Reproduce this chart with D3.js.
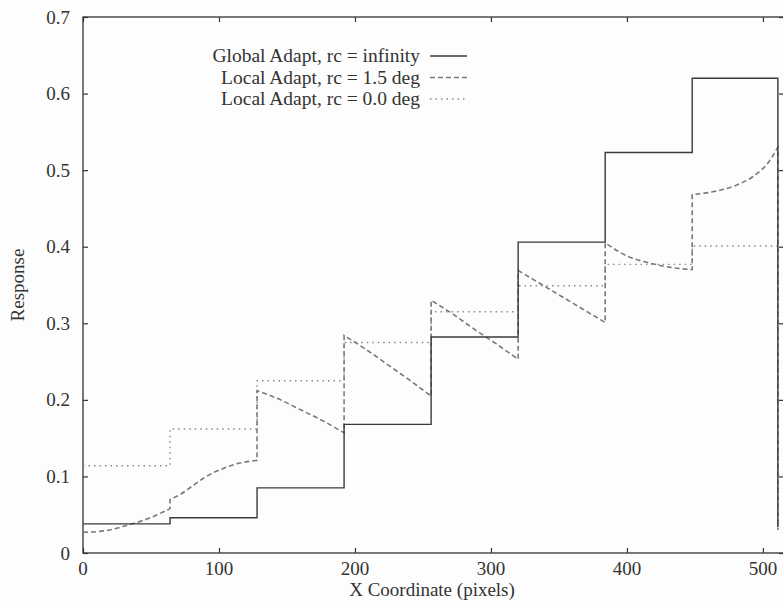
<!DOCTYPE html>
<html><head><meta charset="utf-8">
<script src="https://cdn.jsdelivr.net/npm/d3@7"></script>
<style>
body{margin:0;background:#fdfdfd;}
svg{display:block;}
.lbl{font-family:"Liberation Serif","DejaVu Serif",serif;fill:#333;}
</style></head><body>
<svg id="c" width="783" height="606"></svg>
<script>
// ---- data ----
const stepEdges = [0, 64, 128, 192, 256, 320, 384, 448, 511];
const globalValues = [0.038, 0.046, 0.085, 0.168, 0.282, 0.406, 0.523, 0.620];
const localZeroValues = [0.114, 0.162, 0.225, 0.275, 0.315, 0.349, 0.377, 0.401];
const endDrop = [0.034, 0.030, 0.030]; // values after final edge: global, 1.5deg, 0.0deg
// Local Adapt rc = 1.5 deg: one curve per step
const localCurveX = [
  [0, 16, 32, 48, 64],
  [64, 72, 80, 88, 96, 104, 112, 120, 128],
  [128, 144, 160, 176, 192],
  [192, 208, 224, 240, 256],
  [256, 272, 288, 304, 320],
  [320, 336, 352, 368, 384],
  [384, 400, 416, 432, 448],
  [448, 464, 480, 496, 504, 511]
];
const localCurveY = [
  [0.027, 0.029, 0.036, 0.045, 0.058],
  [0.070, 0.077, 0.087, 0.097, 0.105, 0.111, 0.116, 0.119, 0.121],
  [0.212, 0.201, 0.187, 0.173, 0.157],
  [0.284, 0.266, 0.246, 0.226, 0.205],
  [0.330, 0.312, 0.292, 0.273, 0.253],
  [0.369, 0.352, 0.335, 0.318, 0.301],
  [0.405, 0.388, 0.379, 0.373, 0.370],
  [0.468, 0.472, 0.480, 0.496, 0.510, 0.530]
];
const xTicks = [0, 100, 200, 300, 400, 500];
const yTicks = [0, 0.1, 0.2, 0.3, 0.4, 0.5, 0.6, 0.7];
const xTickLabels = ["0", "100", "200", "300", "400", "500"];
const yTickLabels = ["0", "0.1", "0.2", "0.3", "0.4", "0.5", "0.6", "0.7"];
const legendLabels = ["Global Adapt, rc = infinity", "Local Adapt, rc = 1.5 deg", "Local Adapt, rc = 0.0 deg"];

// ---- layout ----
const svg = d3.select("#c");
const L = 83, R = 784, T = 17, B = 553;
const x = d3.scaleLinear().domain([0, 515.5]).range([L, R]);
const y = d3.scaleLinear().domain([0, 0.7]).range([B, T]);
const axisColor = "#333";

// frame
svg.append("rect").attr("x", L).attr("y", T).attr("width", R - L).attr("height", B - T)
  .attr("fill", "none").attr("stroke", axisColor).attr("stroke-width", 1.3);

// tick marks (inward, all four sides)
const tl = 5;
const g = svg.append("g");
g.append("g").attr("transform", `translate(0,${B})`)
  .call(d3.axisBottom(x).tickValues(xTicks).tickSize(-tl).tickFormat(""));
g.append("g").attr("transform", `translate(0,${T})`)
  .call(d3.axisTop(x).tickValues(xTicks).tickSize(-tl).tickFormat(""));
g.append("g").attr("transform", `translate(${L},0)`)
  .call(d3.axisLeft(y).tickValues(yTicks).tickSize(-tl).tickFormat(""));
g.append("g").attr("transform", `translate(${R},0)`)
  .call(d3.axisRight(y).tickValues(yTicks).tickSize(-tl).tickFormat(""));
g.selectAll(".domain").remove();
g.selectAll(".tick text").remove();
g.selectAll(".tick line").attr("stroke", axisColor).attr("stroke-width", 1.2);

// tick labels
svg.append("g").selectAll("text").data(xTicks).join("text")
  .attr("class", "lbl").attr("font-size", 19).attr("text-anchor", "middle")
  .attr("x", d => x(d)).attr("y", B + 22)
  .text((d, i) => xTickLabels[i]);
svg.append("g").selectAll("text").data(yTicks).join("text")
  .attr("class", "lbl").attr("font-size", 19).attr("text-anchor", "end")
  .attr("x", L - 13).attr("y", d => y(d) + 6.5)
  .text((d, i) => yTickLabels[i]);

// axis titles
svg.append("text").attr("class", "lbl").attr("x", 432).attr("y", 596).attr("text-anchor", "middle")
  .attr("font-size", 19).text("X Coordinate (pixels)");
svg.append("text").attr("class", "lbl").attr("transform", "translate(24,285) rotate(-90)").attr("text-anchor", "middle")
  .attr("font-size", 19).text("Response");

// ---- series ----
const lineGen = d3.line().x(d => x(d[0])).y(d => y(d[1]));
function stepPoints(vals, drop) {
  const pts = [];
  vals.forEach((v, i) => { pts.push([stepEdges[i], v]); pts.push([stepEdges[i + 1], v]); });
  pts.push([stepEdges[stepEdges.length - 1], drop]);
  return pts;
}
const styles = [
  {stroke: "#3a3a3a", width: 1.4, dash: null},
  {stroke: "#7a7a7a", width: 1.6, dash: "5,3"},
  {stroke: "#8a8a8a", width: 1.4, dash: "1.5,4"}
];

// dotted: local 0.0 deg
svg.append("path").attr("d", lineGen(stepPoints(localZeroValues, endDrop[2])))
  .attr("fill", "none").attr("stroke", styles[2].stroke).attr("stroke-width", styles[2].width)
  .attr("stroke-dasharray", styles[2].dash);

// dashed: local 1.5 deg
const curveGen = d3.line().x(d => x(d[0])).y(d => y(d[1])).curve(d3.curveMonotoneX);
let dStr = "";
localCurveX.forEach((xs, i) => {
  const pts = xs.map((xv, j) => [xv, localCurveY[i][j]]);
  let s = curveGen(pts);
  if (i > 0) s = "L" + s.slice(1);
  dStr += s;
});
dStr += "L" + x(stepEdges[stepEdges.length - 1]) + "," + y(endDrop[1]);
svg.append("path").attr("d", dStr)
  .attr("fill", "none").attr("stroke", styles[1].stroke).attr("stroke-width", styles[1].width)
  .attr("stroke-dasharray", styles[1].dash);

// solid: global
svg.append("path").attr("d", lineGen(stepPoints(globalValues, endDrop[0])))
  .attr("fill", "none").attr("stroke", styles[0].stroke).attr("stroke-width", styles[0].width);

// ---- legend ----
const lg = svg.append("g");
legendLabels.forEach((lab, i) => {
  const base = 62 + i * 21.5;
  lg.append("text").attr("class", "lbl").attr("x", 420).attr("y", base).attr("text-anchor", "end")
    .attr("font-size", 19.5).text(lab);
  lg.append("line").attr("x1", 430).attr("x2", 467).attr("y1", base - 6).attr("y2", base - 6)
    .attr("stroke", styles[i].stroke).attr("stroke-width", styles[i].width)
    .attr("stroke-dasharray", styles[i].dash);
});
</script>
</body></html>
